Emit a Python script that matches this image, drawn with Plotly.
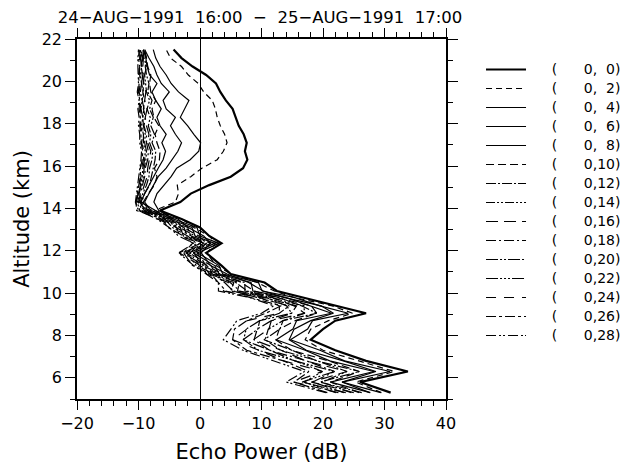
import plotly.graph_objects as go

altitude_km = [5.3, 5.8, 6.3, 6.8, 7.3, 7.8, 8.3, 8.7, 9.05, 9.4, 9.8, 10.1, 10.5, 10.9, 11.3,
               11.9, 12.35, 12.7, 13.1, 13.5, 13.9, 14.3, 14.7, 15.1, 15.5, 15.9, 16.3, 16.7,
               17.1, 17.5, 17.9, 18.3, 18.7, 19.1, 19.5, 19.9, 20.3, 20.7, 21.1, 21.5]

beam_labels = ["0, 0", "0, 2", "0, 4", "0, 6", "0, 8", "0,10", "0,12", "0,14",
               "0,16", "0,18", "0,20", "0,22", "0,24", "0,26", "0,28"]

p00 = [31, 26, 33.8, 27, 22, 18, 20, 22, 27, 22, 16.5, 12.5, 10.5, 5, 3.5, 1, 3.5, 1.5, 0, -3, -6.5,
       -3.2, -1.5, 1.5, 5.0, 7.0, 7.7, 7.3, 7.6, 7.1, 6.3, 5.8, 5.3, 4.2, 3.3, 2.6, 1.0, -1.2, -3.0, -4.3]
p02 = [29.5, 25.3, 31.6, 26.0, 20.0, 17.1, 18.0, 20.9, 24.8, 21.5, 15.2, 12.1, 9.3, 5.1, 2.6, 1.1, 2.6, 1.5, -1.0, -2.9, -7.4,
       -4.0, -3.5, -3.7, -1.5, 0.3, 2.8, 3.8, 4.4, 4.0, 3.3, 2.8, 2.5, 2.0, 0.6, -0.3, -1.9, -3.0, -4.8, -5.5]
p04 = [29.4, 23.1, 30.9, 23.5, 19.5, 14.7, 17.5, 18.3, 24.1, 19.5, 15.3, 10.1, 9.5, 3.7, 3.1, -0.4, 3.1, 0.0, -0.5, -4.3, -6.7,
       -7.5, -7.0, -5.8, -4.7, -3.8, -1.6, -0.2, 0.1, -1.0, -2.0, -3.2, -2.5, -1.8, -3.5, -4.7, -5.5, -6.5, -7.2, -7.6]
p06 = [27.6, 23.1, 28.6, 23.3, 17.3, 14.5, 15.3, 18.0, 21.7, 19.7, 13.6, 10.3, 7.9, 4.4, 1.7, 0.2, 1.7, 0.6, -1.9, -3.6, -8.0,
       -9.0, -8.3, -7.5, -6.8, -5.5, -4.5, -3.6, -3.0, -4.0, -4.8, -4.0, -5.5, -6.0, -5.0, -6.3, -7.0, -7.5, -8.3, -9.0]
p08 = [27.7, 21.2, 28.3, 21.1, 17.1, 12.4, 15.1, 15.7, 21.4, 17.9, 13.9, 8.6, 8.3, 3.1, 2.4, -1.1, 2.4, -0.8, -1.3, -4.9, -7.3,
       -9.6, -9.0, -8.3, -7.6, -6.8, -6.0, -5.6, -6.2, -5.5, -6.5, -7.0, -6.3, -7.2, -7.8, -7.0, -8.2, -8.6, -8.8, -9.2]
p10 = [25.9, 21.2, 25.9, 20.9, 14.9, 12.3, 12.9, 15.5, 19.0, 18.1, 12.3, 8.8, 6.7, 3.7, 1.0, -0.5, 1.0, -0.2, -2.7, -4.3, -8.5,
       -9.2, -8.4, -7.4, -7.0, -7.4, -6.6, -6.5, -7.0, -7.3, -6.7, -7.5, -7.8, -7.2, -8.0, -8.2, -8.0, -8.5, -8.7, -9.0]
p12 = [26.3, 19.5, 25.9, 19.0, 15.0, 10.4, 13.0, 13.5, 19.0, 16.5, 12.8, 7.3, 7.3, 2.5, 1.8, -1.8, 1.8, -1.5, -2.0, -5.5, -7.8,
       -9.5, -9.0, -8.2, -7.9, -7.6, -7.3, -7.2, -7.8, -7.4, -8.0, -7.6, -8.2, -7.8, -8.5, -8.3, -8.7, -8.9, -8.7, -9.2]
p14 = [24.6, 19.8, 23.9, 19.1, 13.1, 10.6, 11.1, 13.5, 17.0, 16.9, 11.2, 7.7, 5.8, 3.3, 0.5, -1.0, 0.5, -0.8, -3.3, -4.7, -9.0,
       -9.7, -9.3, -8.7, -8.3, -8.2, -7.8, -7.7, -8.2, -8.0, -8.4, -8.1, -8.6, -8.2, -8.7, -8.9, -9.0, -8.7, -9.1, -9.3]
p16 = [25.0, 18.1, 23.9, 17.2, 13.2, 8.7, 11.2, 11.6, 17.0, 15.3, 11.7, 6.1, 6.4, 2.0, 1.2, -2.3, 1.2, -2.1, -2.6, -6.0, -8.2,
       -9.9, -9.5, -9.1, -8.6, -8.5, -8.2, -8.0, -8.5, -8.3, -8.7, -8.9, -8.6, -9.0, -8.8, -9.2, -9.1, -9.3, -9.2, -9.5]
p18 = [23.4, 18.3, 21.9, 17.3, 11.3, 8.8, 9.3, 11.6, 14.9, 15.7, 10.2, 6.5, 4.9, 2.8, -0.1, -1.6, -0.1, -1.4, -3.9, -5.2, -9.4,
       -10.0, -9.7, -9.3, -9.0, -8.9, -8.5, -8.4, -8.7, -8.7, -9.1, -8.9, -9.2, -9.0, -9.3, -9.1, -9.4, -9.5, -9.3, -9.6]
p20 = [23.7, 16.6, 21.9, 15.4, 11.4, 7.0, 9.4, 9.7, 14.9, 14.1, 10.7, 5.0, 5.5, 1.5, 0.7, -2.8, 0.7, -2.7, -3.2, -6.5, -8.6,
       -10.1, -9.9, -9.5, -9.2, -9.1, -8.8, -8.7, -9.0, -8.9, -9.2, -9.3, -9.1, -9.4, -9.2, -9.5, -9.3, -9.6, -9.4, -9.7]
p22 = [22.1, 16.9, 19.9, 15.5, 9.5, 7.1, 7.5, 9.7, 12.9, 14.5, 9.2, 5.4, 4.0, 2.3, -0.6, -2.1, -0.6, -2.0, -4.5, -5.7, -9.8,
       -10.2, -10.0, -9.7, -9.4, -9.3, -9.0, -8.9, -9.2, -9.2, -9.5, -9.3, -9.6, -9.4, -9.7, -9.5, -9.7, -9.5, -9.7, -9.7]
p24 = [22.5, 15.2, 19.9, 13.6, 9.6, 5.3, 7.6, 7.7, 12.9, 12.9, 9.7, 3.8, 4.6, 1.1, 0.1, -3.4, 0.1, -3.3, -3.8, -6.9, -9.0,
       -10.3, -10.1, -9.8, -9.6, -9.5, -9.2, -9.1, -9.5, -9.3, -9.7, -9.5, -9.7, -9.6, -9.9, -9.7, -9.8, -9.9, -9.8, -9.8]
p26 = [20.7, 15.3, 17.7, 13.6, 7.6, 5.3, 5.6, 7.6, 10.7, 13.2, 8.1, 4.2, 3.0, 1.8, -1.2, -2.7, -1.2, -2.7, -5.2, -6.2, -10.3,
       -10.4, -10.2, -10.0, -9.7, -9.7, -9.4, -9.3, -9.6, -9.6, -9.8, -9.7, -9.9, -9.8, -10.0, -9.9, -10.0, -9.8, -10.0, -9.9]
p28 = [20.5, 14, 17, 12, 7, 3.8, 5, 6, 10, 12, 8, 3, 3, 1, -1, -3.5, -1, -3.5, -5, -7, -10,
       -10.5, -10.3, -10.1, -9.9, -9.8, -9.6, -9.5, -9.8, -9.8, -10.0, -9.9, -10.1, -9.9, -10.2, -10.0, -10.1, -10.1, -10.1, -10.0]

profiles = [p00, p02, p04, p06, p08, p10, p12, p14, p16, p18, p20, p22, p24, p26, p28]

dashes = ["solid", "6px,4px", "solid", "solid", "solid", "8px,4px", "10px,2px,2px,2px",
          "9px,2px,2px,2px,2px,2px", "12px,6px", "10px,3px,2px,3px", "12px,2px,2px,2px,2px,2px",
          "12px,2px,2px,2px,2px,2px,2px,2px", "10px,8px", "10px,3px,3px,3px", "10px,3px,2px,2px,2px,3px"]
widths = [2.2] + [1.2] * 14

FONT = "DejaVu Sans"
W, H = 617, 456
L, R, T, B = 69, 179, 31, 65

fig = go.Figure()
for lab, xs, d, w in zip(beam_labels, profiles, dashes, widths):
    a, b = lab.split(",")
    b = b.strip()
    text = ("\u2007\u2007\u2009(\u2007\u2007\u2007" + a.strip() + ","
            + ("\u2007" if len(b) == 1 else "") + b + ")")
    fig.add_trace(go.Scatter(x=xs, y=altitude_km, mode="lines",
                             name='<span style="font-size:14px">' + text + "</span>",
                             line=dict(color="black", width=w, dash=d)))

fig.update_layout(
    width=W, height=H,
    margin=dict(l=L, r=R, t=T, b=B, autoexpand=False),
    paper_bgcolor="white", plot_bgcolor="white",
    font=dict(family=FONT, color="black", size=14),
    title=dict(text="24\u2212AUG\u22121991\u00a0\u00a016:00\u00a0\u00a0\u2212\u00a0\u00a025\u2212AUG\u22121991\u00a0\u00a017:00",
               x=252 / W, xanchor="center", y=1 - 3 / H, yanchor="top",
               font=dict(family=FONT, size=16.5)),
    showlegend=True,
    legend=dict(x=1.0949, xanchor="left", y=0.9556, yanchor="top", bgcolor="rgba(0,0,0,0)",
                font=dict(family=FONT, size=12), tracegroupgap=0, itemwidth=40),
)
fig.update_xaxes(range=[-20, 40], dtick=10, tick0=0, ticks="outside", ticklen=9, tickwidth=1.2,
                 tickcolor="black", showline=True, linecolor="black", linewidth=1.5, mirror="ticks",
                 showgrid=False, zeroline=True, zerolinecolor="black", zerolinewidth=1, automargin=False,
                 minor=dict(dtick=2, ticks="outside", ticklen=5, tickcolor="black", showgrid=False),
                 tickfont=dict(size=16), title=dict(text="Echo Power (dB)", font=dict(size=21), standoff=12))
fig.update_yaxes(range=[5, 22], dtick=2, tick0=0, ticks="outside", ticklen=10, tickwidth=1.2,
                 tickcolor="black", showline=True, linecolor="black", linewidth=1.5, mirror="ticks",
                 showgrid=False, zeroline=False, automargin=False,
                 minor=dict(dtick=1, ticks="outside", ticklen=5, tickcolor="black", showgrid=False),
                 tickfont=dict(size=16), title=dict(text="Altitude (km)", font=dict(size=21), standoff=6))

fig.write_html("out.html")
